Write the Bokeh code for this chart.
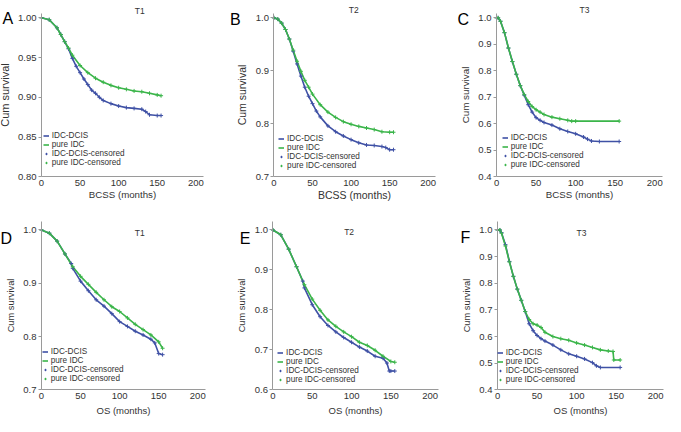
from bokeh.plotting import figure
from bokeh.layouts import column, row
from bokeh.models import (FixedTicker, PrintfTickFormatter, Range1d, Legend,
                          LegendItem, Label)
from bokeh.embed import file_html
from bokeh.resources import INLINE

BLUE = "#3f51a5"
GREEN = "#3bb54a"
FONT = "Liberation Sans"
TXT = "#333333"
AXC = "#9a9a9a"

# ---------------- data ----------------
x_ticks = [0, 50, 100, 150, 200]
legend_labels = ["IDC-DCIS", "pure IDC", "IDC-DCIS-censored", "pure IDC-censored"]
panel_letters = ["A", "B", "C", "D", "E", "F"]
panel_titles = ["T1", "T2", "T3", "T1", "T2", "T3"]
x_labels = ["BCSS (months)", "BCSS (months)", "BCSS (months)",
            "OS (months)", "OS (months)", "OS (months)"]
y_label = "Cum survival"

# Panel A: BCSS, T1
a_blue_t = [0, 10, 20, 25, 30, 35, 40, 45, 50, 55, 60, 65, 70, 75, 80, 90, 100, 110, 120, 130, 135, 140, 150, 155]
a_blue_s = [1.0, 0.9976, 0.9875, 0.979, 0.970, 0.961, 0.949, 0.939, 0.931, 0.923, 0.916, 0.909, 0.905, 0.900,
            0.896, 0.892, 0.889, 0.887, 0.886, 0.885, 0.882, 0.878, 0.877, 0.877]
a_green_t = [0, 10, 20, 25, 30, 35, 40, 50, 60, 70, 80, 90, 100, 110, 120, 130, 140, 150, 155]
a_green_s = [1.0, 0.9976, 0.9875, 0.979, 0.970, 0.962, 0.953, 0.940, 0.931, 0.924, 0.919, 0.915, 0.912,
             0.910, 0.908, 0.907, 0.905, 0.903, 0.902]
a_yticks = [0.80, 0.85, 0.90, 0.95, 1.00]

# Panel B: BCSS, T2
b_blue_t = [0, 5, 10, 15, 20, 25, 30, 35, 40, 45, 50, 55, 60, 70, 80, 90, 100, 110, 120, 130, 140, 145, 150, 155]
b_blue_s = [1.0, 0.9976, 0.990, 0.978, 0.960, 0.937, 0.913, 0.890, 0.869, 0.852, 0.838, 0.824, 0.813, 0.796,
            0.785, 0.777, 0.770, 0.764, 0.760, 0.759, 0.757, 0.755, 0.751, 0.751]
b_green_t = [0, 5, 10, 15, 20, 25, 30, 35, 40, 45, 50, 60, 70, 80, 90, 100, 110, 120, 130, 140, 150, 155]
b_green_s = [1.0, 0.9976, 0.990, 0.978, 0.960, 0.939, 0.918, 0.899, 0.882, 0.869, 0.856, 0.836, 0.822, 0.812,
             0.804, 0.799, 0.795, 0.792, 0.789, 0.785, 0.784, 0.784]
b_yticks = [0.7, 0.8, 0.9, 1.0]

# Panel C: BCSS, T3
c_blue_t = [0, 2, 5, 10, 15, 20, 25, 30, 35, 40, 45, 50, 55, 60, 70, 80, 90, 100, 110, 115, 120, 130, 155]
c_blue_s = [1.0, 1.0, 0.987, 0.944, 0.886, 0.835, 0.787, 0.744, 0.708, 0.672, 0.644, 0.623, 0.613, 0.605,
            0.595, 0.581, 0.571, 0.562, 0.550, 0.542, 0.535, 0.533, 0.533]
c_green_t = [0, 2, 5, 10, 15, 20, 25, 30, 35, 40, 45, 50, 55, 60, 70, 80, 90, 95, 100, 155]
c_green_s = [1.0, 1.0, 0.987, 0.944, 0.886, 0.835, 0.787, 0.744, 0.710, 0.684, 0.665, 0.653, 0.644, 0.635,
             0.625, 0.619, 0.613, 0.610, 0.610, 0.610]
c_yticks = [0.4, 0.5, 0.6, 0.7, 0.8, 0.9, 1.0]

# Panel D: OS, T1
d_blue_t = [0, 10, 20, 30, 38, 40, 50, 60, 70, 80, 90, 100, 110, 120, 130, 140, 145, 150, 155]
d_blue_s = [1.0, 0.994, 0.979, 0.955, 0.937, 0.928, 0.904, 0.886, 0.869, 0.857, 0.843, 0.828, 0.819, 0.810,
            0.803, 0.795, 0.788, 0.768, 0.766]
d_green_t = [0, 10, 20, 30, 40, 50, 60, 70, 80, 90, 100, 110, 120, 130, 140, 150, 155]
d_green_s = [1.0, 0.994, 0.979, 0.955, 0.931, 0.913, 0.898, 0.883, 0.869, 0.856, 0.847, 0.835, 0.823, 0.813,
             0.803, 0.790, 0.778]
d_yticks = [0.7, 0.8, 0.9, 1.0]

# Panel E: OS, T2
e_blue_t = [0, 10, 20, 30, 38, 40, 50, 60, 70, 80, 90, 100, 110, 120, 130, 140, 145, 148, 150, 155]
e_blue_s = [1.0, 0.988, 0.952, 0.908, 0.872, 0.855, 0.813, 0.783, 0.761, 0.745, 0.731, 0.719, 0.707, 0.697,
            0.684, 0.679, 0.667, 0.647, 0.647, 0.647]
e_green_t = [0, 10, 20, 30, 40, 50, 60, 70, 80, 90, 100, 110, 120, 130, 140, 150, 155]
e_green_s = [1.0, 0.988, 0.952, 0.908, 0.863, 0.827, 0.799, 0.775, 0.759, 0.745, 0.733, 0.719, 0.711, 0.699,
             0.684, 0.671, 0.669]
e_yticks = [0.6, 0.7, 0.8, 0.9, 1.0]

# Panel F: OS, T3
f_blue_t = [0, 3, 5, 10, 15, 20, 25, 30, 35, 40, 45, 50, 55, 60, 70, 80, 90, 100, 110, 120, 125, 130, 155]
f_blue_s = [1.0, 1.0, 0.990, 0.945, 0.882, 0.826, 0.778, 0.736, 0.694, 0.648, 0.622, 0.604, 0.592, 0.583,
            0.568, 0.550, 0.535, 0.526, 0.516, 0.502, 0.490, 0.484, 0.484]
f_green_t = [0, 3, 5, 10, 15, 20, 25, 30, 35, 40, 45, 50, 55, 60, 70, 80, 90, 100, 110, 120, 130, 140, 146, 147, 155]
f_green_s = [1.0, 1.0, 0.988, 0.940, 0.880, 0.826, 0.778, 0.736, 0.694, 0.664, 0.648, 0.643, 0.634, 0.616,
             0.600, 0.592, 0.586, 0.576, 0.568, 0.559, 0.550, 0.546, 0.544, 0.512, 0.512]
f_yticks = [0.4, 0.5, 0.6, 0.7, 0.8, 0.9, 1.0]

panels = [
    (a_blue_t, a_blue_s, a_green_t, a_green_s, a_yticks, "%.2f"),
    (b_blue_t, b_blue_s, b_green_t, b_green_s, b_yticks, "%.1f"),
    (c_blue_t, c_blue_s, c_green_t, c_green_s, c_yticks, "%.1f"),
    (d_blue_t, d_blue_s, d_green_t, d_green_s, d_yticks, "%.1f"),
    (e_blue_t, e_blue_s, e_green_t, e_green_s, e_yticks, "%.1f"),
    (f_blue_t, f_blue_s, f_green_t, f_green_s, f_yticks, "%.1f"),
]

# ---------------- layout geometry (reference pixels, scaled to page) ----------------
SX = 665 / 681
SY = 416 / 432
FIG_X = [0, 220, 440]
FIG_W = [220, 220, 225]
FIG_Y = [0, 208]
FIG_H = [208, 208]
X_AXIS_END = 210
XLAB_STANDOFF = [0, 3]

GEOM = [
    dict(x0=42, x200=200, y1=18, ybot=183, ytop=13, let=(2, 18.3), tit=(142.5, 10.7), leg=(53, 169), ylf=11, xlf=9.7),
    dict(x0=280, x200=438, y1=18, ybot=183, ytop=13, let=(235, 19.3), tit=(361.7, 10), leg=(294, 172), ylf=10.5, xlf=10.5),
    dict(x0=508, x200=670, y1=18, ybot=183, ytop=13, let=(468, 19.3), tit=(598, 10), leg=(523, 171), ylf=9.8, xlf=9.7),
    dict(x0=42, x200=202, y1=238.3, ybot=404.3, ytop=230, let=(0, 246.7), tit=(142.5, 241.7), leg=(52, 393), ylf=9.3, xlf=9.5),
    dict(x0=279, x200=440, y1=238.3, ybot=404.3, ytop=230, let=(245, 246.7), tit=(357, 240.7), leg=(293, 394), ylf=9.3, xlf=9.5),
    dict(x0=509, x200=671, y1=238.3, ybot=404.3, ytop=230, let=(471, 246), tit=(595, 241), leg=(518, 394), ylf=9.3, xlf=9.5),
]


def make_panel(i):
    bt, bs, gt, gs, yticks, fmt = panels[i]
    r, c = divmod(i, 3)
    g = GEOM[i]
    W, H = FIG_W[c], FIG_H[r]
    fx = lambda X: X * SX - FIG_X[c]          # ref x -> figure px (from left)
    fy = lambda Y: Y * SY - FIG_Y[r]          # ref y -> figure px (from top)

    ymin = yticks[0]
    px0, px200 = fx(g["x0"]), fx(g["x200"])
    k = (px200 - px0) / 200.0
    py1, pyb = fy(g["y1"]), fy(g["ybot"])
    m = (pyb - py1) / (1.0 - ymin)
    x_range = Range1d(-px0 / k, (W - px0) / k)
    y_range = Range1d(ymin - (H - pyb) / m, 1.0 + py1 / m)
    ytop = 1.0 + (py1 - fy(g["ytop"])) / m

    p = figure(width=W, height=H, x_range=x_range, y_range=y_range,
               output_backend="svg", toolbar_location=None, min_border=0)
    p.outline_line_color = None
    p.grid.visible = False
    p.background_fill_color = "white"
    p.border_fill_color = "white"

    lb = p.line(bt, bs, color=BLUE, line_width=1.6)
    lg = p.line(gt, gs, color=GREEN, line_width=1.6)
    sb = p.scatter(bt, bs, marker="cross", size=4, color=BLUE, line_width=1)
    sg = p.scatter(gt, gs, marker="cross", size=4, color=GREEN, line_width=1)

    xa, ya = p.xaxis[0], p.yaxis[0]
    xa.fixed_location = ymin
    ya.fixed_location = 0
    xa.bounds = (0, X_AXIS_END)
    ya.bounds = (ymin, ytop)
    xa.ticker = FixedTicker(ticks=x_ticks)
    ya.ticker = FixedTicker(ticks=yticks)
    ya.formatter = PrintfTickFormatter(format=fmt)
    xa.axis_label = x_labels[i]
    ya.axis_label = y_label
    for ax in (xa, ya):
        ax.axis_line_color = AXC
        ax.major_tick_line_color = AXC
        ax.minor_tick_line_color = None
        ax.major_tick_in = 0
        ax.major_label_text_font = FONT
        ax.major_label_text_font_size = "9.5px"
        ax.major_label_text_color = TXT
        ax.axis_label_text_font = FONT
        ax.axis_label_text_font_style = "normal"
        ax.axis_label_text_color = TXT
    xa.axis_label_text_font_size = "%.1fpx" % g["xlf"]
    ya.axis_label_text_font_size = "%.1fpx" % g["ylf"]
    xa.major_tick_out = 0
    xa.major_label_standoff = 3
    xa.axis_label_standoff = XLAB_STANDOFF[r]
    ya.major_tick_out = 3
    ya.major_label_standoff = 2
    ya.axis_label_standoff = 4

    tx, last = g["leg"]
    legend = Legend(items=[LegendItem(label=legend_labels[0], renderers=[lb]),
                           LegendItem(label=legend_labels[1], renderers=[lg]),
                           LegendItem(label=legend_labels[2], renderers=[sb]),
                           LegendItem(label=legend_labels[3], renderers=[sg])],
                    location=(fx(tx) - 9, H - (fy(last) + 4.5)),
                    padding=0, margin=0, spacing=0,
                    glyph_width=6, glyph_height=9, label_height=9, label_standoff=3,
                    label_text_font=FONT, label_text_font_size="8.2px",
                    label_text_line_height=1.1, label_text_color=TXT,
                    border_line_color=None, background_fill_alpha=0)
    p.add_layout(legend)

    lx, lyb = g["let"]
    p.add_layout(Label(x=fx(lx), y=H - fy(lyb), x_units="screen", y_units="screen",
                       text=panel_letters[i], text_font=FONT, text_font_size="16px",
                       text_color="black", text_baseline="alphabetic", text_align="left"))
    tcx, tyb = g["tit"]
    p.add_layout(Label(x=fx(tcx), y=H - fy(tyb), x_units="screen", y_units="screen",
                       text=panel_titles[i], text_font=FONT, text_font_size="8.5px",
                       text_color=TXT, text_baseline="alphabetic", text_align="center"))
    return p


figs = [make_panel(i) for i in range(6)]
layout = column(row(*figs[:3]), row(*figs[3:]))

open("out.html", "w").write(file_html(layout, INLINE))
